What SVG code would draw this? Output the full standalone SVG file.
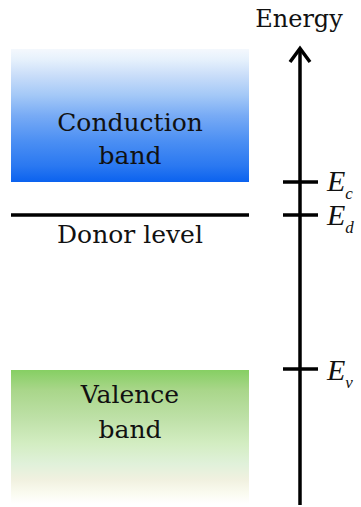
<svg xmlns="http://www.w3.org/2000/svg" width="361" height="507" viewBox="0 0 361 507">
<defs>
<linearGradient id="gc" x1="0" y1="0" x2="0" y2="1">
<stop offset="0" stop-color="#f4f8fd"/>
<stop offset="0.08" stop-color="#e6f1fc"/>
<stop offset="0.2" stop-color="#c9ddf9"/>
<stop offset="0.35" stop-color="#a3c8f7"/>
<stop offset="0.5" stop-color="#78abf5"/>
<stop offset="0.7" stop-color="#4a8ef3"/>
<stop offset="0.88" stop-color="#2a78f1"/>
<stop offset="1" stop-color="#0b62ef"/>
</linearGradient>
<linearGradient id="gv" x1="0" y1="0" x2="0" y2="1">
<stop offset="0" stop-color="#86cf63"/>
<stop offset="0.15" stop-color="#a9d68a"/>
<stop offset="0.35" stop-color="#bde0a6"/>
<stop offset="0.55" stop-color="#d3edc2"/>
<stop offset="0.7" stop-color="#e0f1da"/>
<stop offset="0.82" stop-color="#f1f1e0"/>
<stop offset="0.92" stop-color="#fafbf0"/>
<stop offset="1" stop-color="#ffffff"/>
</linearGradient>
</defs>
<style>
.lbl{font-family:"DejaVu Serif","Liberation Serif",serif;font-size:25px;fill:#111;text-anchor:middle}
.el{font-family:"Liberation Serif","DejaVu Serif",serif;font-style:italic;font-size:30px;fill:#111}
.sub{font-size:17px}
.ln{stroke:#000;stroke-width:3.5;fill:none}
</style>
<g id="conduction-band">
<rect x="11" y="49" width="238" height="133" fill="url(#gc)"/>
<text class="lbl" x="130" y="131">Conduction</text>
<text class="lbl" x="130" y="164">band</text>
</g>
<g id="donor-level">
<line class="ln" x1="11" y1="215" x2="249" y2="215"/>
<text class="lbl" x="130" y="243">Donor level</text>
</g>
<g id="valence-band">
<rect x="11" y="370" width="238" height="134" fill="url(#gv)"/>
<text class="lbl" x="130" y="403">Valence</text>
<text class="lbl" x="130" y="438">band</text>
</g>
<g id="connectors">
<line class="ln" x1="300" y1="505" x2="300" y2="49"/>
<polyline class="ln" points="290,62 300,48.5 310,62" stroke-linejoin="miter"/>
<line class="ln" x1="283" y1="182" x2="318" y2="182"/>
<line class="ln" x1="283" y1="215" x2="318" y2="215"/>
<line class="ln" x1="283" y1="369" x2="318" y2="369"/>
</g>
<g id="labels">
<text class="lbl" x="299" y="27" style="font-size:24px">Energy</text>
<text class="el" x="327" y="191">E<tspan class="sub" dy="8">c</tspan></text>
<text class="el" x="327" y="225">E<tspan class="sub" dy="8">d</tspan></text>
<text class="el" x="327" y="380">E<tspan class="sub" dy="8">v</tspan></text>
</g>
</svg>
